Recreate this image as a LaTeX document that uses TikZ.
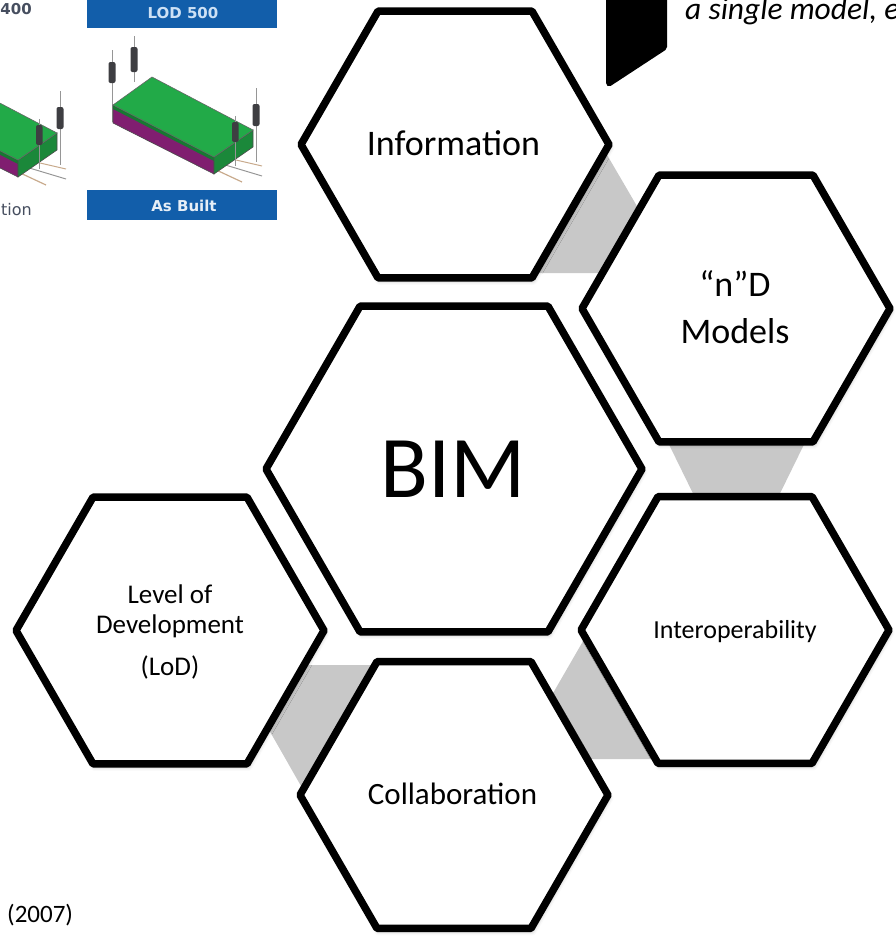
\documentclass[tikz,border=0pt]{standalone}
\usepackage{fontspec}
\setmainfont{Carlito}
\newfontfamily\panelfont{DejaVu Sans}
\usetikzlibrary{shapes.geometric,calc,shadows.blur}

\definecolor{bandgray}{RGB}{200,200,200}
\definecolor{lodblue}{RGB}{18,94,170}
\definecolor{lodtext}{RGB}{205,225,245}
\definecolor{boxgreen}{RGB}{34,170,72}
\definecolor{boxpurple}{RGB}{128,30,112}
\definecolor{postgray}{RGB}{62,62,66}
\definecolor{polegray}{RGB}{150,150,150}
\definecolor{groundtan}{RGB}{200,170,140}
\definecolor{captiongray}{RGB}{70,78,95}

\pgfdeclarelayer{background}
\pgfsetlayers{background,main}

% one LOD rendering: green slab with purple side and sensor posts
\newcommand{\lodscene}{%
  \draw[groundtan, line width=1.2pt] (212,-168) -- (242,-182);
  \draw[polegray, line width=1pt] (222,-164) -- (262,-176);
  \draw[groundtan, line width=1pt] (236,-160) -- (262,-166);
  \draw[polegray, line width=1pt] (112,-50) -- (112,-122);
  \fill[postgray, rounded corners=2pt] (108.5,-62) rectangle (115.5,-83);
  \draw[polegray, line width=1pt] (134,-36) -- (134,-82);
  \fill[postgray, rounded corners=2pt] (130.5,-47) rectangle (137.5,-72);
  \fill[boxpurple, draw=black!70, line width=0.6pt] (113,-105) -- (214,-157) -- (214,-174) -- (113,-123) -- cycle;
  \fill[boxgreen!70!black] (113,-105) -- (214,-157) -- (214,-161) -- (113,-109) -- cycle;
  \fill[boxgreen!80!black, draw=black!70, line width=0.6pt] (214,-157) -- (253,-130) -- (253,-147) -- (214,-174) -- cycle;
  \fill[boxgreen, draw=black!60, line width=0.6pt] (113,-105) -- (152,-77) -- (253,-130) -- (214,-157) -- cycle;
  \draw[polegray, line width=1pt] (256,-88) -- (256,-162);
  \fill[postgray, rounded corners=2pt] (252.5,-104) rectangle (259.5,-126);
  \draw[polegray, line width=1pt] (235,-116) -- (235,-166);
  \fill[postgray, rounded corners=2pt] (232,-122) rectangle (238.5,-142);
}

\begin{document}
\begin{tikzpicture}[x=1pt,y=1pt,
  hexa/.style={regular polygon, regular polygon sides=6, minimum size=308pt,
    inner sep=0pt, outer sep=0pt, draw=black, line width=7.5pt, line join=round,
    fill=white, blur shadow={shadow xshift=1.5pt, shadow yshift=-3pt,
    shadow blur radius=4pt, shadow opacity=30}},
  band/.style={fill=bandgray},
  lbl/.style={anchor=base, inner sep=0pt, text=black},
  paneltxt/.style={inner sep=0pt, font=\panelfont\bfseries\fontsize{15}{18}\selectfont},
]
\useasboundingbox (0,0) rectangle (896,-937);

% ---- LOD renderings, top left ----
\begin{scope}[xshift=-196pt, yshift=-3pt]
  \lodscene
\end{scope}
\lodscene
\fill[lodblue] (87,0) rectangle (277,-27.5);
\fill[lodblue] (87,-190) rectangle (277,-220);
\node[paneltxt, text=lodtext] (lod500) at (183,-13) {LOD 500};
\node[paneltxt, text=white!90!lodblue] (asbuilt) at (184,-205.5) {As Built};
\node[paneltxt, text=captiongray, anchor=east] (lod400) at (32,-9.5) {400};
\node[paneltxt, text=captiongray, anchor=east, font=\panelfont\fontsize{16}{19}\selectfont] (lodtion) at (32,-210) {tion};

% ---- banner tip and quotation, top right ----
\fill[black, rounded corners=2pt] (606,6) -- (667,6) -- (667,-49) -- (609,-87) -- (606,-85) -- cycle;
\node[anchor=base west, inner sep=0pt, font=\fontsize{31.5}{38}\selectfont\itshape]
  (quote) at (685,-19) {a single model, e};

% ---- hexagon cluster ----
\node[hexa] (info) at (455,-144.5) {};
\node[hexa] (nd) at (736,-308.5) {};
\node[hexa, minimum size=376pt] (bim) at (454,-469) {};
\node[hexa] (inter) at (735,-630) {};
\node[hexa] (collab) at (454,-795) {};
\node[hexa] (lod) at (170,-630.5) {};

\node[lbl, font=\fontsize{36}{43}\selectfont] (info-t) at (453.5,-155) {Information};
\node[lbl, font=\fontsize{36}{43}\selectfont] (nd-t1) at (735,-296.5) {“n”D};
\node[lbl, font=\fontsize{36}{43}\selectfont] (nd-t2) at (735,-343) {Models};
\node[lbl, font=\fontsize{88}{100}\selectfont] (bim-t) at (453.5,-497) {BIM};
\node[lbl, font=\fontsize{26}{31}\selectfont] (inter-t) at (735,-638) {Interoperability};
\node[lbl, font=\fontsize{31}{37}\selectfont] (collab-t) at (452.5,-804) {Collaboration};
\node[lbl, font=\fontsize{27}{32}\selectfont] (lod-t1) at (170,-603) {Level of};
\node[lbl, font=\fontsize{27}{32}\selectfont] (lod-t2) at (170,-633) {Development};
\node[lbl, font=\fontsize{27}{32}\selectfont] (lod-t3) at (170,-675) {(LoD)};

\node[anchor=base west, inner sep=0pt, font=\fontsize{25}{30}\selectfont]
  (year) at (7,-922) {(2007)};

% ---- gray links between neighbouring hexagons ----
\begin{pgfonlayer}{background}
  \fill[band] ($(info.center)+(120,44.5)$) -- ($(nd.center)+(-60,35.5)$)
    -- ($(info.center)+(45,-128.5)$) -- ($(info.center)+(45,44.5)$) -- cycle;
  \fill[band] ($(nd.center)+(-79,-111.5)$) -- ($(nd.center)+(80,-111.5)$)
    -- ($(inter.center)+(32,110)$) -- ($(inter.center)+(-29,110)$) -- cycle;
  \fill[band] ($(inter.center)+(-134,20)$) -- ($(inter.center)+(-55,20)$)
    -- ($(inter.center)+(-55,-129)$) -- ($(collab.center)+(61,36)$) -- cycle;
  \fill[band] ($(lod.center)+(62,-34.5)$) -- ($(collab.center)+(-34,130)$)
    -- ($(collab.center)+(-34,-5)$) -- ($(collab.center)+(-145,-5)$) -- cycle;
\end{pgfonlayer}
\end{tikzpicture}
\end{document}
